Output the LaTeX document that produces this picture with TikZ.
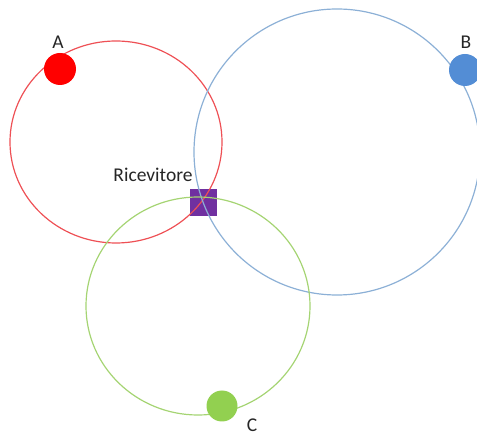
\documentclass[tikz,border=0pt]{standalone}
\usepackage{fontspec}
\setmainfont{Carlito}
\definecolor{redline}{RGB}{238,80,85}
\definecolor{blueline}{RGB}{140,176,214}
\definecolor{greenline}{RGB}{165,212,115}
\definecolor{reddot}{RGB}{255,0,0}
\definecolor{bluedot}{RGB}{83,141,213}
\definecolor{greendot}{RGB}{146,208,80}
\definecolor{purplebox}{RGB}{112,48,160}
\begin{document}
\begin{tikzpicture}[x=1pt,y=-1pt,
  ring/.style={line width=1.2pt},
  dot/.style={circle,inner sep=0pt,minimum size=32pt},
  lbl/.style={font=\fontsize{19.5}{22}\selectfont,text=black!85,inner sep=0pt}]
\useasboundingbox (0,0) rectangle (477,435);
\node[fill=purplebox,minimum size=27pt,inner sep=0pt] (rx) at (203,203) {};
\draw[ring,redline] (116,142) ellipse [x radius=106,y radius=101];
\draw[ring,blueline] (337,152) circle [radius=143];
\draw[ring,greenline] (198,306) ellipse [x radius=112,y radius=109];
\node[dot,fill=reddot] (a) at (60,69) {};
\node[dot,fill=bluedot] (b) at (465,70) {};
\node[dot,fill=greendot,minimum size=31pt] (c) at (222,406) {};
\node[lbl] (la) at (58,42) {A};
\node[lbl] (lb) at (466,42) {B};
\node[lbl] (lc) at (252,425) {C};
\node[lbl] (lr) at (153,175) {Ricevitore};
\end{tikzpicture}
\end{document}
